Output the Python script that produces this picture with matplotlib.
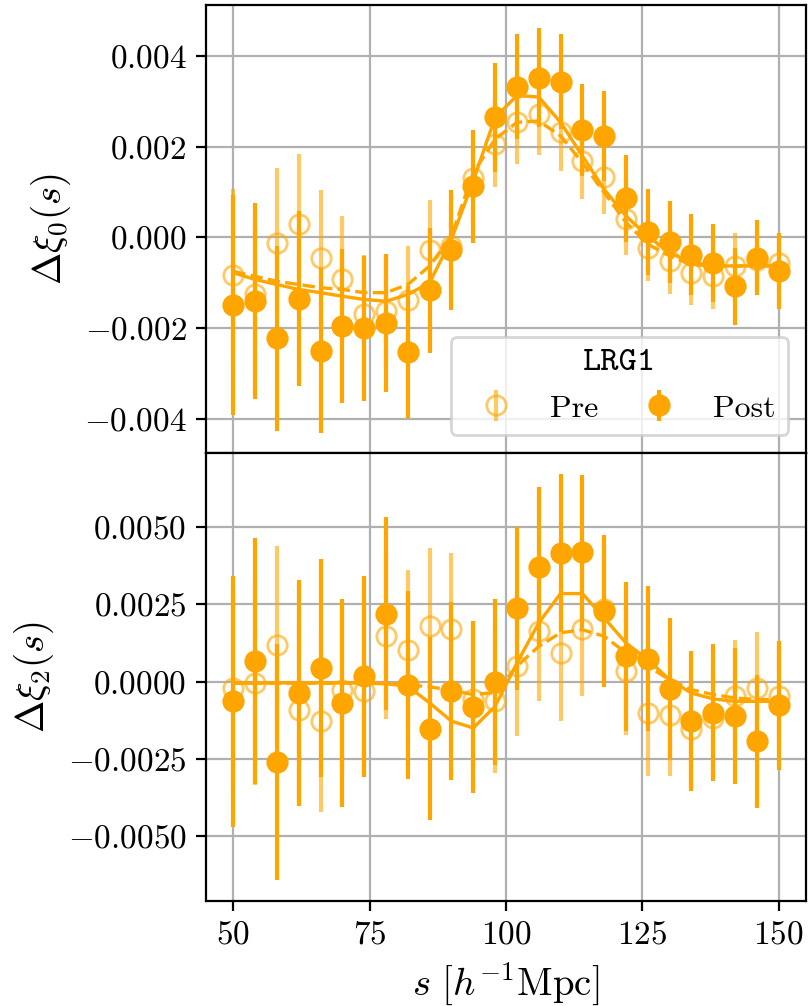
import numpy as np
import matplotlib
matplotlib.use("Agg")
import matplotlib.pyplot as plt

plt.rcParams['font.family'] = 'serif'
plt.rcParams['font.serif'] = ['cmr10']
plt.rcParams['mathtext.fontset'] = 'cm'
plt.rcParams['axes.formatter.use_mathtext'] = True

s = np.arange(50, 151, 4)

# monopole (units of 1e-3)
xi0_pre = [-0.82, -1.26, -0.12, 0.30, -0.46, -0.91, -1.70, -1.63, -1.39, -0.28, -0.20, 1.32, 2.06,
           2.54, 2.72, 2.32, 1.69, 1.34, 0.41, -0.23, -0.52, -0.78, -0.86, -0.63, -0.50, -0.56]
xi0_pre_err = [1.88, 1.80, 1.66, 1.55, 1.50, 1.39, 1.32, 1.25, 1.20, 1.10, 1.05, 1.00, 0.95,
               0.92, 0.89, 0.85, 0.85, 0.83, 0.79, 0.74, 0.74, 0.72, 0.71, 0.72, 0.68, 0.65]
xi0_post = [-1.50, -1.41, -2.23, -1.35, -2.50, -1.96, -2.01, -1.89, -2.53, -1.17, -0.28, 1.13, 2.65,
            3.33, 3.53, 3.44, 2.37, 2.24, 0.86, 0.12, -0.10, -0.38, -0.56, -1.08, -0.45, -0.74]
xi0_post_err = [2.43, 2.16, 2.05, 1.94, 1.82, 1.70, 1.61, 1.53, 1.46, 1.38, 1.33, 1.25, 1.20,
                1.16, 1.10, 1.05, 1.02, 1.00, 0.96, 0.94, 0.91, 0.89, 0.86, 0.85, 0.83, 0.83]
xi0_model_pre = [-0.75, -0.86, -0.97, -1.04, -1.11, -1.15, -1.22, -1.22, -1.04, -0.63, 0.03, 1.43, 2.17,
                 2.54, 2.57, 2.24, 1.65, 0.99, 0.33, -0.15, -0.41, -0.60, -0.63, -0.63, -0.63, -0.63]
xi0_model_post = [-0.78, -0.93, -1.04, -1.15, -1.22, -1.30, -1.37, -1.41, -1.26, -1.00, -0.04, 1.25, 2.65,
                  3.13, 3.10, 2.54, 1.80, 1.06, 0.47, 0.03, -0.34, -0.56, -0.63, -0.63, -0.63, -0.63]

# quadrupole (units of 1e-3)
xi2_pre = [-0.21, -0.04, 1.20, -0.93, -1.28, -0.28, -0.31, 1.47, 1.01, 1.79, 1.70, -0.55, -0.62,
           0.52, 1.63, 0.93, 1.70, 2.35, 0.33, -1.01, -1.07, -1.53, -1.17, -0.48, -0.21, -0.48]
xi2_pre_err = [3.30, 3.30, 3.18, 3.05, 2.94, 2.85, 2.75, 2.68, 2.59, 2.53, 2.46, 2.40, 2.35,
               2.29, 2.27, 2.21, 2.16, 2.10, 2.05, 2.03, 1.97, 1.93, 1.88, 1.83, 1.80, 1.77]
xi2_post = [-0.64, 0.66, -2.60, -0.37, 0.44, -0.69, 0.17, 2.20, -0.10, -1.53, -0.31, -0.83, -0.02,
            2.38, 3.70, 4.16, 4.20, 2.28, 0.82, 0.74, -0.24, -1.28, -1.01, -1.12, -1.93, -0.77]
xi2_post_err = [4.07, 3.98, 3.81, 3.65, 3.53, 3.37, 3.26, 3.13, 3.04, 2.96, 2.89, 2.79, 2.69,
                2.64, 2.59, 2.56, 2.48, 2.45, 2.42, 2.35, 2.29, 2.27, 2.22, 2.20, 2.16, 2.10]
xi2_model_pre = [-0.05, -0.05, -0.05, -0.05, -0.05, -0.05, -0.05, -0.06, -0.10, -0.17, -0.28, -0.42, -0.35,
                 0.50, 1.14, 1.58, 1.68, 1.47, 0.93, 0.50, 0.06, -0.26, -0.42, -0.53, -0.58, -0.58]
xi2_model_post = [-0.05, -0.05, -0.04, -0.04, -0.04, -0.04, -0.05, -0.07, -0.15, -0.69, -1.28, -1.50, -0.80,
                  0.60, 1.90, 2.85, 2.85, 2.06, 1.25, 0.71, 0.06, -0.37, -0.56, -0.64, -0.64, -0.64]

col = 'orange'

fig, axes = plt.subplots(2, 1, figsize=(4.04, 5.03), dpi=200, sharex=True)
fig.subplots_adjust(left=0.255, right=0.9975, top=0.995, bottom=0.1044, hspace=0)

panels = [
    (xi0_pre, xi0_pre_err, xi0_post, xi0_post_err, xi0_model_pre, xi0_model_post, r'$\Delta\xi_0(s)$'),
    (xi2_pre, xi2_pre_err, xi2_post, xi2_post_err, xi2_model_pre, xi2_model_post, r'$\Delta\xi_2(s)$'),
]

for ax, (pre, pre_e, post, post_e, mpre, mpost, lab) in zip(axes, panels):
    sc = 1e-3
    ax.errorbar(s, np.array(pre) * sc, yerr=np.array(pre_e) * sc, fmt='o', color=col,
                mfc='none', mew=1.0, ms=7, elinewidth=1.5, alpha=0.6, label='Pre', zorder=2)
    ax.errorbar(s, np.array(post) * sc, yerr=np.array(post_e) * sc, fmt='o', color=col,
                ms=7, elinewidth=1.5, label='Post', zorder=3)
    ax.plot(s, np.array(mpre) * sc, '--', color=col, lw=1.2, zorder=4)
    ax.plot(s, np.array(mpost) * sc, '-', color=col, lw=1.2, zorder=4)
    ax.grid(True)
    ax.set_axisbelow(True)
    ax.set_ylabel(lab, fontsize=14)
    ax.tick_params(labelsize=12)

axes[0].set_ylim(-0.00476, 0.00513)
axes[0].set_yticks([-0.004, -0.002, 0.0, 0.002, 0.004])
axes[1].set_ylim(-0.0071, 0.0074)
axes[1].set_yticks([-0.005, -0.0025, 0.0, 0.0025, 0.005])
axes[1].set_xlim(45, 155)
axes[1].set_xticks([50, 75, 100, 125, 150])
axes[1].set_xlabel(r'$s\ [h^{-1}{\rm Mpc}]$', fontsize=14)

leg = axes[0].legend(loc='lower right', ncol=2, fontsize=11.5, title='LRG1', columnspacing=0.9,
                     handletextpad=0.7, borderaxespad=0.55,
                     title_fontproperties={'family': 'cmtt10', 'size': 12.5})

fig.savefig('out.png', dpi=200)
